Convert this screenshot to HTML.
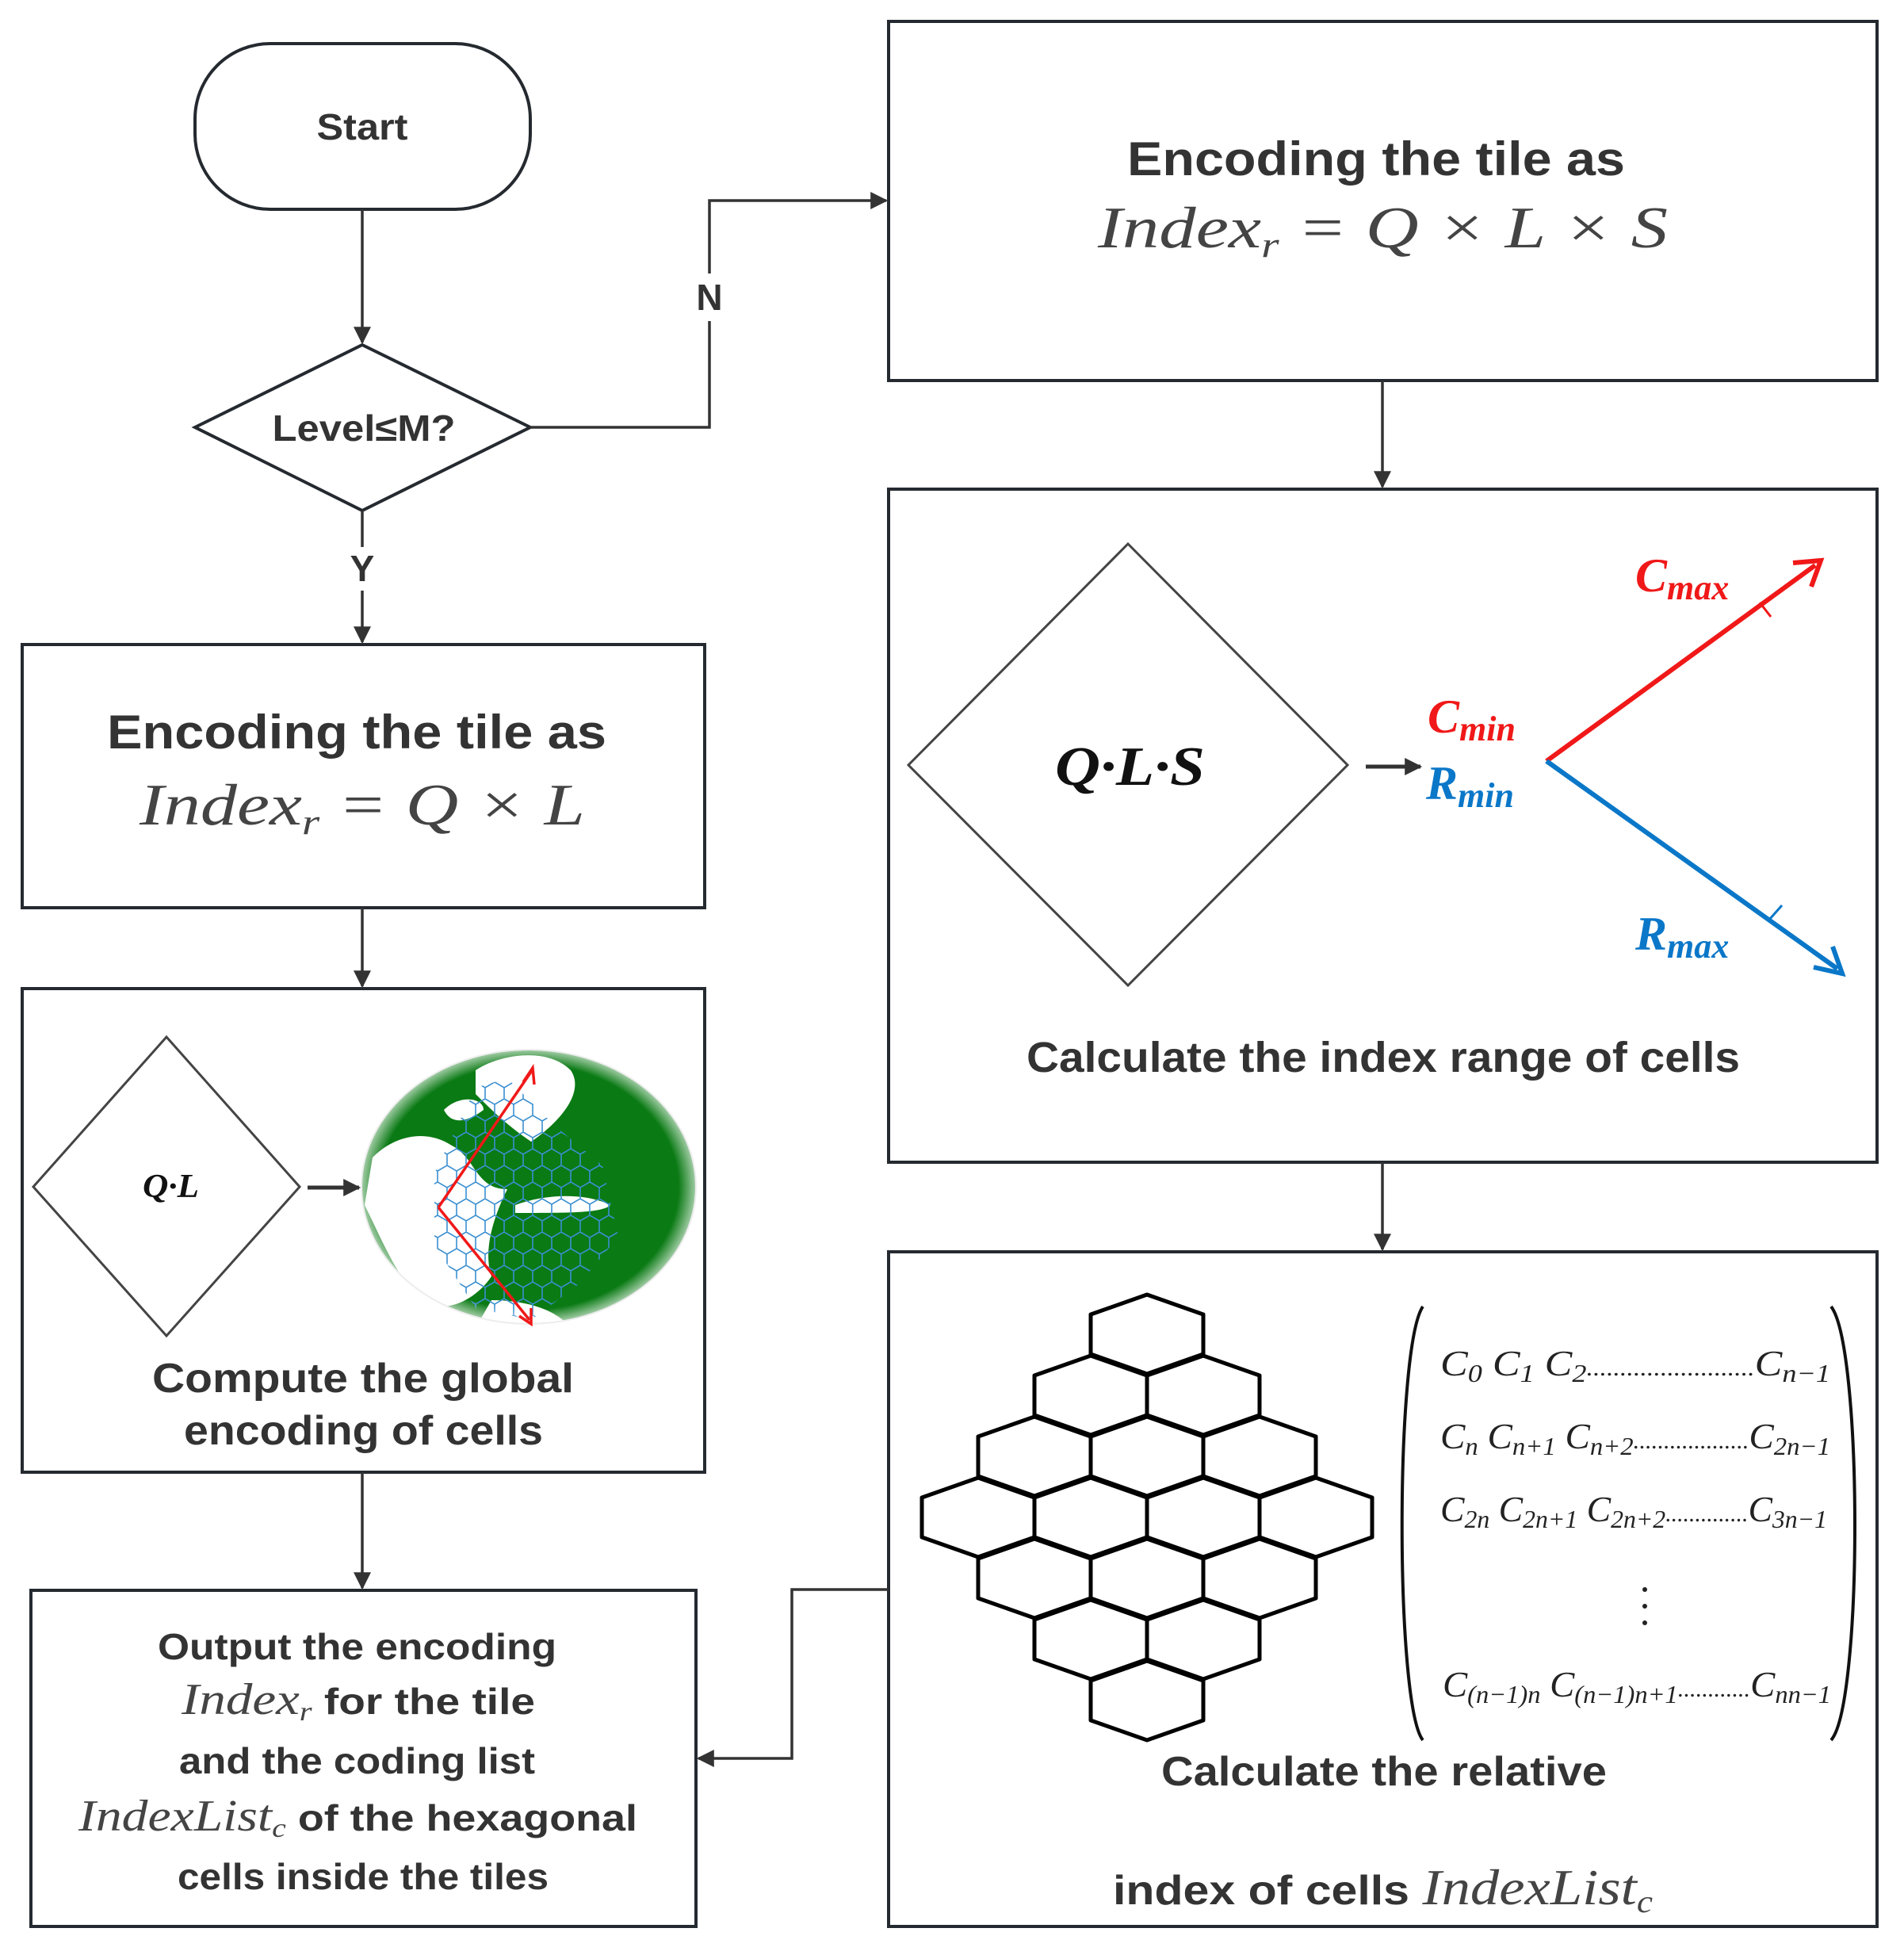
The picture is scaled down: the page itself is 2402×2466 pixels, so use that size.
<!DOCTYPE html>
<html><head><meta charset="utf-8"><style>
html,body{margin:0;padding:0;background:#fff;}
svg{display:block;}
.h{font-family:"Liberation Sans",sans-serif;font-weight:bold;fill:#333;}
.m{font-family:"Liberation Serif",serif;font-style:italic;fill:#444;}
.bi{font-family:"Liberation Serif",serif;font-style:italic;font-weight:bold;}
.mx{font-family:"Liberation Serif",serif;font-style:italic;fill:#222;}
</style></head><body>
<svg width="2402" height="2466" viewBox="0 0 2402 2466" xmlns="http://www.w3.org/2000/svg">
<defs>
<marker id="ar" viewBox="0 0 10 10" refX="9" refY="5" markerWidth="30" markerHeight="22" markerUnits="userSpaceOnUse" orient="auto"><path d="M0,0 L10,5 L0,10 z" fill="#333"/></marker>
<pattern id="hx" width="24" height="42" patternUnits="userSpaceOnUse"><path d="M12,0 L24,7 L24,21 L12,28 L0,21 L0,7 Z M12,28 L12,42" fill="none" stroke="#3a8fd0" stroke-width="1.6"/></pattern>
<radialGradient id="gl" cx="0.5" cy="0.5" r="0.5"><stop offset="0.9" stop-color="#fff" stop-opacity="0"/><stop offset="1" stop-color="#fff" stop-opacity="0.6"/></radialGradient>
<clipPath id="gc"><ellipse cx="667" cy="1497" rx="210" ry="172"/></clipPath>
</defs>
<g fill="none" stroke="#252a30" stroke-width="4">
<rect x="246" y="55" width="423" height="209" rx="95" ry="95"/>
<polygon points="457,435 669,539 457,644 246,539"/>
<rect x="28" y="813" width="861" height="332"/>
<rect x="28" y="1247" width="861" height="610"/>
<rect x="39" y="2006" width="839" height="424"/>
<rect x="1121" y="27" width="1247" height="453"/>
<rect x="1121" y="617" width="1247" height="849"/>
<rect x="1121" y="1579" width="1247" height="851"/>
</g>
<g fill="none" stroke="#333" stroke-width="3.5">
<path d="M457,264 L457,432" marker-end="url(#ar)"/>
<path d="M457,644 L457,690"/>
<path d="M457,745 L457,810" marker-end="url(#ar)"/>
<path d="M669,539 L895,539 L895,405"/>
<path d="M895,345 L895,253 L1118,253" marker-end="url(#ar)"/>
<path d="M457,1145 L457,1244" marker-end="url(#ar)"/>
<path d="M457,1857 L457,2003" marker-end="url(#ar)"/>
<path d="M1744,480 L1744,614" marker-end="url(#ar)"/>
<path d="M1744,1466 L1744,1576" marker-end="url(#ar)"/>
<path d="M1121,2005 L999,2005 L999,2218 L881,2218" marker-end="url(#ar)"/>
</g>
<text class="h" x="457" y="176" font-size="46" text-anchor="middle" textLength="115" lengthAdjust="spacingAndGlyphs">Start</text>
<text class="h" x="459" y="556" font-size="46" text-anchor="middle" textLength="231" lengthAdjust="spacingAndGlyphs">Level≤M?</text>
<text class="h" x="895" y="391" font-size="46" text-anchor="middle">N</text>
<text class="h" x="457" y="733" font-size="46" text-anchor="middle">Y</text>
<text class="h" x="1422" y="221" font-size="60" textLength="628" lengthAdjust="spacingAndGlyphs">Encoding the tile as</text>
<text class="m" x="1385" y="312" font-size="74" textLength="719" lengthAdjust="spacingAndGlyphs">Index<tspan font-size="46" dy="12">r</tspan><tspan dy="-12"> = Q × L × S</tspan></text>
<text class="h" x="135" y="944" font-size="60" textLength="630" lengthAdjust="spacingAndGlyphs">Encoding the tile as</text>
<text class="m" x="176" y="1040" font-size="74" textLength="562" lengthAdjust="spacingAndGlyphs">Index<tspan font-size="46" dy="12">r</tspan><tspan dy="-12"> = Q × L</tspan></text>
<!-- QLS -->
<polygon points="1423,686 1700,965 1423,1243 1146,965" fill="none" stroke="#444" stroke-width="3"/>
<text class="bi" x="1331" y="990" font-size="70" fill="#111" textLength="189" lengthAdjust="spacingAndGlyphs">Q·L·S</text>
<path d="M1723,967 L1792,967" stroke="#333" stroke-width="5" marker-end="url(#ar)"/>
<path d="M1951,960 L2290,713" stroke="#f01818" stroke-width="6"/>
<path d="M2262,710 L2297,707 L2285,740" fill="none" stroke="#f01818" stroke-width="6"/>
<path d="M2220,760 L2234,778" stroke="#f01818" stroke-width="3"/>
<path d="M1951,960 L2318,1222" stroke="#0a77c8" stroke-width="6"/>
<path d="M2288,1220 L2324,1228 L2312,1194" fill="none" stroke="#0a77c8" stroke-width="6"/>
<path d="M2232,1160 L2248,1142" stroke="#0a77c8" stroke-width="3"/>
<text class="bi" x="2063" y="746" font-size="60" fill="#f01818">C<tspan font-size="44" dy="10">max</tspan></text>
<text class="bi" x="1801" y="924" font-size="60" fill="#f01818">C<tspan font-size="44" dy="10">min</tspan></text>
<text class="bi" x="1799" y="1008" font-size="60" fill="#0a77c8">R<tspan font-size="44" dy="10">min</tspan></text>
<text class="bi" x="2063" y="1198" font-size="60" fill="#0a77c8">R<tspan font-size="44" dy="10">max</tspan></text>
<text class="h" x="1295" y="1352" font-size="54" textLength="900" lengthAdjust="spacingAndGlyphs">Calculate the index range of  cells</text>
<!-- QL -->
<polygon points="210,1308 378,1497 210,1685 42,1497" fill="none" stroke="#444" stroke-width="3"/>
<text class="bi" x="180" y="1510" font-size="42" fill="#111" textLength="71" lengthAdjust="spacingAndGlyphs">Q·L</text>
<path d="M388,1498 L453,1498" stroke="#333" stroke-width="5" marker-end="url(#ar)"/>
<!-- globe -->
<ellipse cx="667" cy="1497" rx="212" ry="174" fill="#eee"/>
<g clip-path="url(#gc)">
<ellipse cx="667" cy="1497" rx="210" ry="172" fill="#0a7a14"/>
<path d="M470,1460 C500,1430 540,1425 570,1445 C600,1460 600,1500 640,1500 C620,1540 610,1580 620,1610 C600,1640 560,1660 530,1640 C500,1610 480,1560 460,1520 Z" fill="#fff"/>
<path d="M600,1350 C630,1330 690,1320 720,1350 C740,1380 700,1420 670,1440 C640,1420 620,1400 600,1380 Z" fill="#fff"/>
<path d="M560,1400 C580,1380 610,1385 610,1400 C590,1415 570,1420 560,1400 Z" fill="#fff"/>
<path d="M650,1520 C690,1505 740,1505 770,1520 C760,1530 720,1530 650,1530 Z" fill="#fff"/>
<path d="M620,1640 C660,1640 700,1650 720,1675 L600,1675 Z" fill="#fff"/>
<polygon points="600,1372 640,1360 700,1420 760,1470 780,1560 730,1620 670,1665 600,1650 548,1570 548,1480" fill="url(#hx)"/>
</g>
<ellipse cx="667" cy="1497" rx="210" ry="172" fill="url(#gl)"/>
<path d="M553,1523 L670,1352 M553,1523 L668,1665" stroke="#f01818" stroke-width="3.5" fill="none"/>
<path d="M660,1365 L672,1347 L674,1368 M655,1660 L670,1670 L670,1650" stroke="#f01818" stroke-width="3.5" fill="none"/>
<text class="h" x="192" y="1756" font-size="52" textLength="532" lengthAdjust="spacingAndGlyphs">Compute the global</text>
<text class="h" x="232" y="1822" font-size="52" textLength="453" lengthAdjust="spacingAndGlyphs">encoding of cells</text>
<!-- output box -->
<text class="h" x="199" y="2093" font-size="46" textLength="503" lengthAdjust="spacingAndGlyphs">Output the encoding</text>
<text class="h" x="229" y="2162" font-size="46" textLength="446" lengthAdjust="spacingAndGlyphs"><tspan class="m" font-size="56" font-weight="normal">Index</tspan><tspan class="m" font-size="34" font-weight="normal" dy="8">r</tspan><tspan dy="-8"> for the tile</tspan></text>
<text class="h" x="226" y="2237" font-size="46" textLength="449" lengthAdjust="spacingAndGlyphs">and the coding list</text>
<text class="h" x="99" y="2309" font-size="46" textLength="705" lengthAdjust="spacingAndGlyphs"><tspan class="m" font-size="56" font-weight="normal">IndexList</tspan><tspan class="m" font-size="34" font-weight="normal" dy="8">c</tspan><tspan dy="-8"> of the hexagonal</tspan></text>
<text class="h" x="224" y="2383" font-size="46" textLength="468" lengthAdjust="spacingAndGlyphs">cells inside the tiles</text>
<!-- hex diamond -->
<g fill="none" stroke="#000" stroke-width="5" stroke-linejoin="round">
<path id="h0" d="M1447,1633 L1518,1658 L1518,1708 L1447,1733 L1376,1708 L1376,1658 Z"/>
<use href="#h0" x="-71" y="77"/><use href="#h0" x="71" y="77"/>
<use href="#h0" x="-142" y="154"/><use href="#h0" x="0" y="154"/><use href="#h0" x="142" y="154"/>
<use href="#h0" x="-213" y="231"/><use href="#h0" x="-71" y="231"/><use href="#h0" x="71" y="231"/><use href="#h0" x="213" y="231"/>
<use href="#h0" x="-142" y="308"/><use href="#h0" x="0" y="308"/><use href="#h0" x="142" y="308"/>
<use href="#h0" x="-71" y="385"/><use href="#h0" x="71" y="385"/>
<use href="#h0" x="0" y="462"/>
</g>
<!-- matrix -->
<path d="M1795,1648 C1760,1700 1760,2150 1795,2195" fill="none" stroke="#111" stroke-width="4"/>
<path d="M2310,1648 C2350,1700 2350,2150 2310,2195" fill="none" stroke="#111" stroke-width="4"/>
<text class="mx" x="1817" y="1735" font-size="46" textLength="492" lengthAdjust="spacingAndGlyphs">C<tspan font-size="32" dy="8">0</tspan><tspan dy="-8"> C</tspan><tspan font-size="32" dy="8">1</tspan><tspan dy="-8"> C</tspan><tspan font-size="32" dy="8">2</tspan><tspan dy="-8" font-size="30">.........................</tspan><tspan>C</tspan><tspan font-size="32" dy="8">n−1</tspan></text>
<text class="mx" x="1817" y="1827" font-size="46" textLength="492" lengthAdjust="spacingAndGlyphs">C<tspan font-size="32" dy="8">n</tspan><tspan dy="-8"> C</tspan><tspan font-size="32" dy="8">n+1</tspan><tspan dy="-8"> C</tspan><tspan font-size="32" dy="8">n+2</tspan><tspan dy="-8" font-size="30">...................</tspan><tspan>C</tspan><tspan font-size="32" dy="8">2n−1</tspan></text>
<text class="mx" x="1817" y="1919" font-size="46" textLength="488" lengthAdjust="spacingAndGlyphs">C<tspan font-size="32" dy="8">2n</tspan><tspan dy="-8"> C</tspan><tspan font-size="32" dy="8">2n+1</tspan><tspan dy="-8"> C</tspan><tspan font-size="32" dy="8">2n+2</tspan><tspan dy="-8" font-size="30">..............</tspan><tspan>C</tspan><tspan font-size="32" dy="8">3n−1</tspan></text>
<g fill="#222"><circle cx="2075" cy="2005" r="3"/><circle cx="2075" cy="2026" r="3"/><circle cx="2075" cy="2047" r="3"/></g>
<text class="mx" x="1820" y="2140" font-size="46" textLength="490" lengthAdjust="spacingAndGlyphs">C<tspan font-size="32" dy="8">(n−1)n</tspan><tspan dy="-8"> C</tspan><tspan font-size="32" dy="8">(n−1)n+1</tspan><tspan dy="-8" font-size="30">............</tspan><tspan>C</tspan><tspan font-size="32" dy="8">nn−1</tspan></text>
<text class="h" x="1465" y="2252" font-size="52" textLength="562" lengthAdjust="spacingAndGlyphs">Calculate the relative</text>
<text class="h" x="1404" y="2402" font-size="52" textLength="681" lengthAdjust="spacingAndGlyphs">index of cells <tspan class="m" font-size="64" font-weight="normal">IndexList</tspan><tspan class="m" font-size="40" font-weight="normal" dy="10">c</tspan></text>
</svg>
</body></html>
